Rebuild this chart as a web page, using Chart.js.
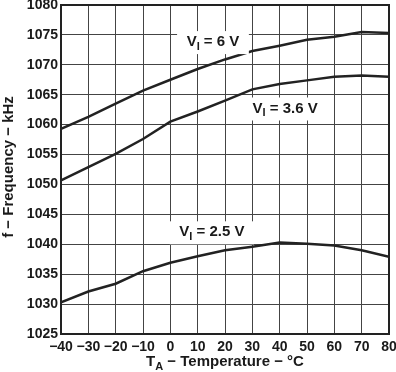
<!DOCTYPE html>
<html>
<head>
<meta charset="utf-8">
<script src="https://cdn.jsdelivr.net/npm/chart.js@4.4.1/dist/chart.umd.min.js"></script>
<style>
  html, body { margin: 0; padding: 0; background: #fff; }
  #wrap { width: 396px; height: 372px; position: relative; }
</style>
</head>
<body>
<div id="wrap"><canvas id="chart" width="396" height="372"></canvas></div>
<script>
// Données
const temps = [-40, -30, -20, -10, 0, 10, 20, 30, 40, 50, 60, 70, 80];
const freq6V = [1059.3, 1061.3, 1063.5, 1065.7, 1067.5, 1069.3, 1070.9, 1072.3, 1073.2, 1074.2, 1074.7, 1075.5, 1075.3];
const freq36V = [1050.7, 1052.9, 1055.1, 1057.6, 1060.5, 1062.2, 1064.0, 1065.9, 1066.8, 1067.4, 1068.0, 1068.2, 1068.0];
const freq25V = [1030.3, 1032.1, 1033.4, 1035.5, 1036.9, 1038.0, 1039.0, 1039.6, 1040.3, 1040.1, 1039.8, 1039.0, 1037.9];
const seriesLabels = ['6 V', '3.6 V', '2.5 V'];
// position des étiquettes (en unités de données)
const labelAt = [[15.6, 1073.8], [42, 1062.7], [15.2, 1042.0]];

const FAMILY = '"Liberation Sans", Arial, sans-serif';
const INK = '#1a1a1a';

function toPoints(ys) {
    return temps.map((t, i) => ({ x: t, y: ys[i] }));
}

function fmtTick(v) {
    return v < 0 ? '\u2212' + Math.abs(v) : String(v);
}

// Texte avec indice : V + I (indice) + reste
function drawSub(ctx, base, sub, rest, x, y, size) {
    const big = 'bold ' + size + 'px ' + FAMILY;
    const small = 'bold ' + Math.round(size * 0.7) + 'px ' + FAMILY;
    ctx.font = big;
    const w1 = ctx.measureText(base).width;
    const w3 = ctx.measureText(rest).width;
    ctx.font = small;
    const w2 = ctx.measureText(sub).width;
    const total = w1 + w2 + w3;
    let cx = x - total / 2;
    ctx.textAlign = 'left';
    ctx.textBaseline = 'middle';
    ctx.font = big;
    ctx.fillText(base, cx, y);
    cx += w1;
    ctx.font = small;
    ctx.fillText(sub, cx, y + size * 0.3);
    cx += w2;
    ctx.font = big;
    ctx.fillText(rest, cx, y);
    return total;
}

const annotations = {
    id: 'annotations',
    afterDatasetsDraw(chart) {
        const ctx = chart.ctx;
        const xs = chart.scales.x, ys = chart.scales.y;
        ctx.save();
        seriesLabels.forEach((lab, i) => {
            const px = xs.getPixelForValue(labelAt[i][0]);
            const py = ys.getPixelForValue(labelAt[i][1]);
            ctx.font = 'bold 15px ' + FAMILY;
            const w = ctx.measureText('VI = ' + lab).width + 10;
            ctx.fillStyle = '#fff';
            ctx.fillRect(px - w / 2 - 4, py - 11, w + 8, 23);
            ctx.fillStyle = INK;
            drawSub(ctx, 'V', 'I', ' = ' + lab, px, py, 15);
        });
        ctx.restore();
    },
    afterDraw(chart) {
        const ctx = chart.ctx;
        const area = chart.chartArea;
        ctx.save();
        ctx.fillStyle = INK;
        // titre axe X
        drawSub(ctx, 'T', 'A', ' \u2212 Temperature \u2212 \u00B0C', 225, 362, 15);
        // titre axe Y
        ctx.translate(9, 167);
        ctx.rotate(-Math.PI / 2);
        ctx.font = 'bold 15px ' + FAMILY;
        ctx.textAlign = 'center';
        ctx.textBaseline = 'middle';
        ctx.fillText('f \u2212 Frequency \u2212 kHz', 0, 0);
        ctx.restore();
        // cadre
        ctx.save();
        ctx.strokeStyle = '#222';
        ctx.lineWidth = 2;
        ctx.strokeRect(area.left, area.top, area.right - area.left, area.bottom - area.top);
        ctx.restore();
    }
};

const lineStyle = {
    borderColor: '#222',
    borderWidth: 2.5,
    pointRadius: 0,
    tension: 0,
    fill: false
};

new Chart(document.getElementById('chart'), {
    type: 'line',
    data: {
        datasets: [
            Object.assign({ label: seriesLabels[0], data: toPoints(freq6V) }, lineStyle),
            Object.assign({ label: seriesLabels[1], data: toPoints(freq36V) }, lineStyle),
            Object.assign({ label: seriesLabels[2], data: toPoints(freq25V) }, lineStyle)
        ]
    },
    options: {
        responsive: false,
        animation: false,
        layout: { padding: { top: 5, right: 7, left: 0, bottom: 0 } },
        plugins: {
            legend: { display: false },
            tooltip: { enabled: false }
        },
        scales: {
            x: {
                type: 'linear',
                min: -40,
                max: 80,
                afterFit(scale) {
                    scale.height = 38;
                    scale.paddingLeft = 0;
                    scale.paddingRight = 0;
                },
                grid: { color: '#444', lineWidth: 1, drawTicks: false },
                border: { display: false },
                ticks: {
                    stepSize: 10,
                    padding: 5,
                    color: INK,
                    font: { family: FAMILY, size: 14, weight: 'bold' },
                    maxRotation: 0,
                    callback: (v) => fmtTick(v)
                }
            },
            y: {
                min: 1025,
                max: 1080,
                afterFit(scale) {
                    scale.width = 61;
                    scale.paddingTop = 0;
                    scale.paddingBottom = 0;
                },
                grid: { color: '#444', lineWidth: 1, drawTicks: false },
                border: { display: false },
                ticks: {
                    stepSize: 5,
                    padding: 3,
                    color: INK,
                    font: { family: FAMILY, size: 14, weight: 'bold' },
                    callback: (v) => String(v)
                }
            }
        }
    },
    plugins: [annotations]
});
</script>
</body>
</html>
